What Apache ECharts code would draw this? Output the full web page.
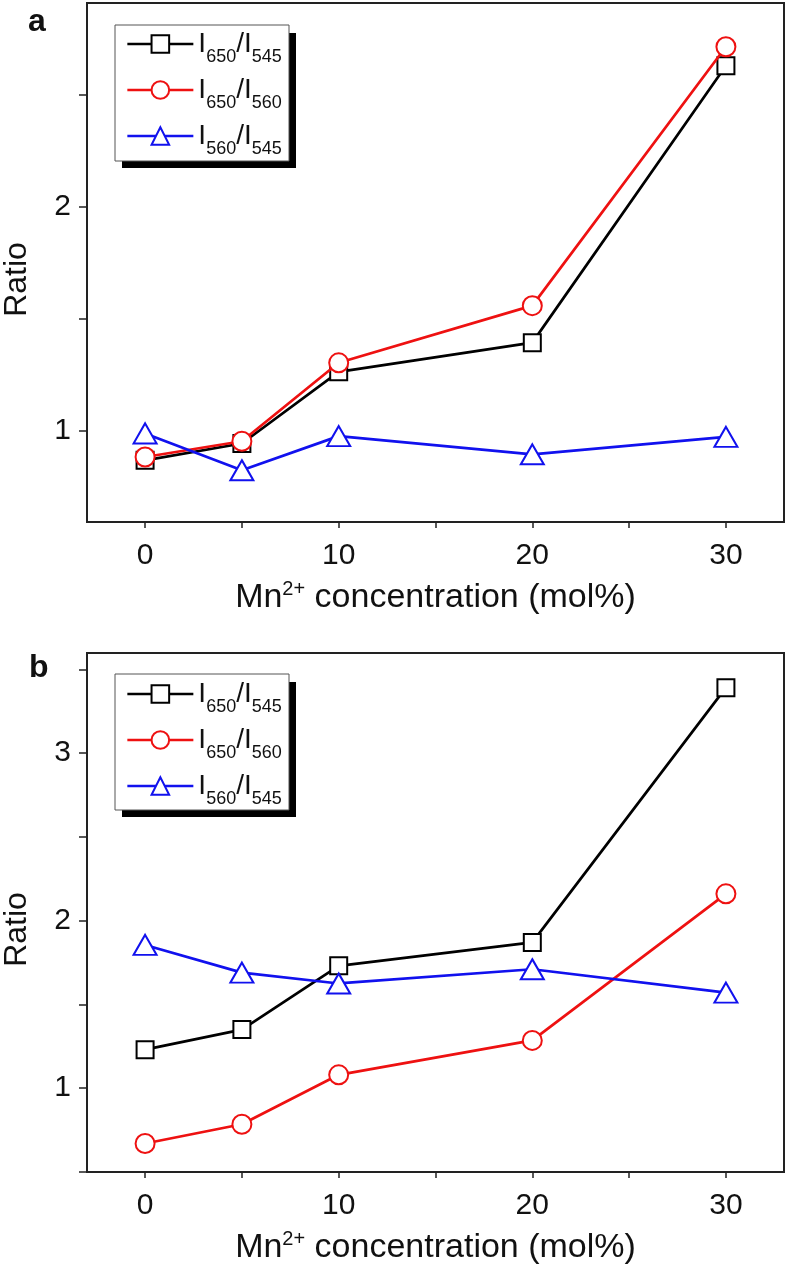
<!DOCTYPE html>
<html>
<head>
<meta charset="utf-8">
<script src="https://cdn.jsdelivr.net/npm/echarts@6.0.0/dist/echarts.min.js"></script>
<style>
html,body{margin:0;padding:0;background:#fff;}
#chart{width:787px;height:1269px;}
</style>
</head>
<body>
<div id="chart"></div>
<script>
// ---- data ----
const conc = [0, 5, 10, 20, 30];
const seriesNames = ['I650/I545', 'I650/I560', 'I560/I545'];
// panel a
const a_650_545 = [0.87, 0.945, 1.265, 1.395, 2.63];
const a_650_560 = [0.885, 0.955, 1.305, 1.56, 2.715];
const a_560_545 = [0.99, 0.826, 0.978, 0.897, 0.975];
// panel b
const b_650_545 = [1.23, 1.35, 1.73, 1.87, 3.39];
const b_650_560 = [0.67, 0.785, 1.08, 1.285, 2.16];
const b_560_545 = [1.855, 1.69, 1.625, 1.71, 1.57];
// ticks
const xTicks = [0, 5, 10, 15, 20, 25, 30];
const xLabels = [0, 10, 20, 30];
const aYTicks = [1, 1.5, 2, 2.5];
const aYLabels = [1, 2];
const bYTicks = [0.5, 1, 1.5, 2, 2.5, 3, 3.5];
const bYLabels = [1, 2, 3];

const FONT = 'Liberation Sans, Arial, sans-serif';
const colors = ['#000000', '#ee1111', '#1111ee'];
const symbols = ['emptyRect', 'emptyCircle', 'emptyTriangle'];
const symSizes = [17, 19, [23, 20]];

function pairs(ys) { return conc.map((x, i) => [x, ys[i]]); }

function mkSeries(vals, gi) {
  return vals.map((v, i) => ({
    name: seriesNames[i],
    type: 'line',
    xAxisIndex: gi, yAxisIndex: gi,
    data: pairs(v),
    symbol: symbols[i],
    symbolSize: symSizes[i],
    showAllSymbol: true,
    color: colors[i],
    lineStyle: { color: colors[i], width: 2.7 },
    itemStyle: { color: colors[i], borderColor: colors[i], borderWidth: 1.7 },
    emphasis: { disabled: true },
    z: 3 + i
  }));
}

function xAxisDef(gi) {
  return {
    type: 'value', gridIndex: gi, min: -3, max: 33,
    splitLine: { show: false },
    axisLine: { show: true, onZero: false, lineStyle: { color: '#222', width: 2 } },
    axisTick: { show: true, inside: false, length: 6, customValues: xTicks, lineStyle: { color: '#222', width: 1.5 } },
    axisLabel: { customValues: xLabels, margin: 19, fontSize: 30, color: '#111', fontFamily: FONT },
    name: 'Mn{sup|2+} concentration (mol%)',
    nameLocation: 'middle', nameGap: 57,
    nameTextStyle: {
      fontSize: 34, color: '#111', fontFamily: FONT,
      rich: { sup: { fontSize: 20, fontFamily: FONT, color: '#111', padding: [0, 0, 18, 0] } }
    }
  };
}

function yAxisDef(gi, min, max, ticks, labels) {
  return {
    type: 'value', gridIndex: gi, min: min, max: max,
    splitLine: { show: false },
    axisLine: { show: true, onZero: false, lineStyle: { color: '#222', width: 2 } },
    axisTick: { show: true, inside: false, length: 8, customValues: ticks, lineStyle: { color: '#222', width: 1.5 } },
    axisLabel: { customValues: labels, margin: 16, fontSize: 30, color: '#111', fontFamily: FONT },
    name: 'Ratio', nameLocation: 'middle', nameGap: 54,
    nameTextStyle: { fontSize: 32, color: '#111', fontFamily: FONT, padding: [0, 34, 0, 0] }
  };
}

function legendDef(top) {
  return {
    data: seriesNames, orient: 'vertical', left: 126, top: top,
    padding: 0, itemWidth: 66, itemHeight: 22, itemGap: 2,
    selectedMode: false,
    lineStyle: { width: 2.7 },
    itemStyle: { borderWidth: 1.7 },
    formatter: function (name) {
      const m = name.match(/I(\d+)\/I(\d+)/);
      return '{b|I}{s|' + m[1] + '}{b|/I}{s|' + m[2] + '}';
    },
    textStyle: {
      color: '#111', fontFamily: FONT,
      rich: {
        b: { fontSize: 28, lineHeight: 28, padding: [5, 0, 5, 0], fontFamily: FONT, color: '#111' },
        s: { fontSize: 18, lineHeight: 18, padding: [26, 0, 0, 0], fontFamily: FONT, color: '#111' }
      }
    },
    z: 10
  };
}

function legendBox(y) {
  return [
    { type: 'rect', shape: { x: 122, y: y + 8, width: 174, height: 135 }, style: { fill: '#000' }, z: 5 },
    { type: 'rect', shape: { x: 115, y: y, width: 174, height: 136 }, style: { fill: '#fff', stroke: '#555', lineWidth: 1 }, z: 6 }
  ];
}

const chart = echarts.init(document.getElementById('chart'), null, { renderer: 'canvas' });
chart.setOption({
  animation: false,
  backgroundColor: '#fff',
  grid: [
    { left: 87, top: 3, width: 697, height: 519, show: true, borderColor: '#222', borderWidth: 2, backgroundColor: 'transparent', containLabel: false, outerBoundsMode: 'none' },
    { left: 87, top: 653, width: 697, height: 519, show: true, borderColor: '#222', borderWidth: 2, backgroundColor: 'transparent', containLabel: false, outerBoundsMode: 'none' }
  ],
  xAxis: [xAxisDef(0), xAxisDef(1)],
  yAxis: [yAxisDef(0, 0.595, 2.91, aYTicks, aYLabels), yAxisDef(1, 0.5, 3.597, bYTicks, bYLabels)],
  legend: [legendDef(22), legendDef(672)],
  graphic: [
    ...legendBox(25), ...legendBox(674),
    { type: 'text', left: 28, top: 6, style: { text: 'a', font: 'bold 32px ' + FONT, fill: '#111' }, z: 10 },
    { type: 'text', left: 29, top: 652, style: { text: 'b', font: 'bold 32px ' + FONT, fill: '#111' }, z: 10 }
  ],
  series: [...mkSeries([a_650_545, a_650_560, a_560_545], 0), ...mkSeries([b_650_545, b_650_560, b_560_545], 1)]
});
</script>
</body>
</html>
